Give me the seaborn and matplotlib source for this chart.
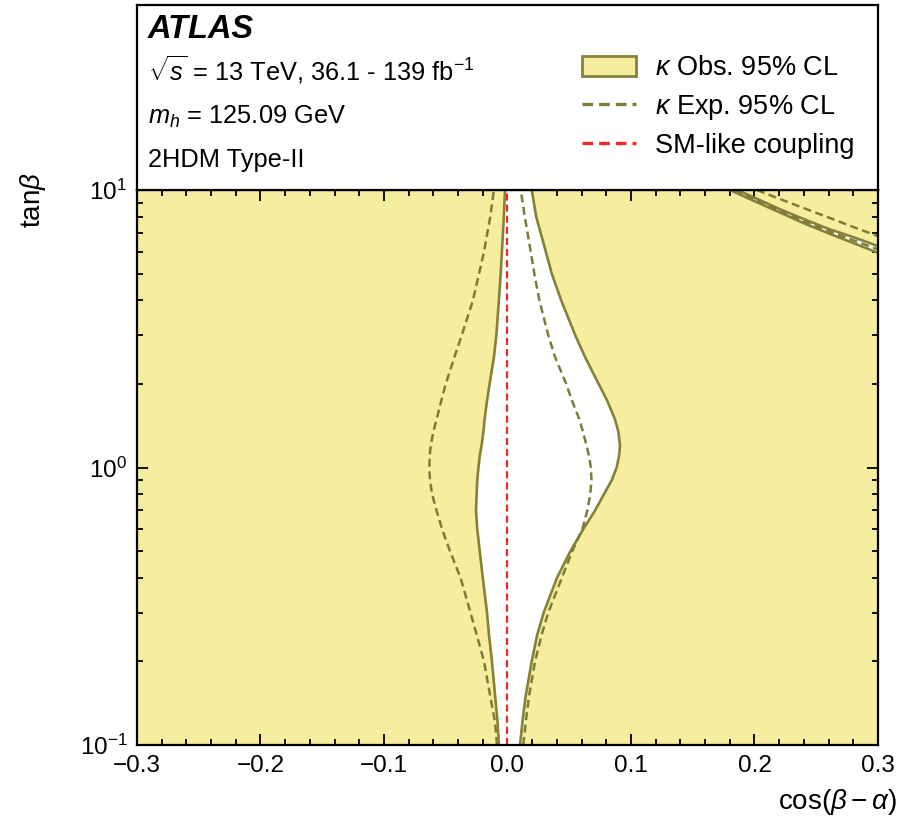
import matplotlib
matplotlib.use("Agg")
import matplotlib.pyplot as plt
import seaborn as sns
from matplotlib.lines import Line2D
from matplotlib.patches import Patch
from matplotlib.ticker import MultipleLocator, LogLocator, NullFormatter

tanb = [0.1, 0.12, 0.15, 0.2, 0.25, 0.3, 0.4, 0.5, 0.6, 0.7, 0.8, 0.9, 1.0,
        1.1, 1.2, 1.35, 1.5, 1.75, 2.0, 2.5, 3.0, 4.0, 5.0, 6.0, 8.0, 10.0]

# observed 95% CL, left/right edge of the allowed region
obs_left = [-0.007, -0.008, -0.010, -0.0126, -0.015, -0.0166, -0.020, -0.0225, -0.0245, -0.0255, -0.025,
            -0.0245, -0.0235, -0.0225, -0.021, -0.0195, -0.0185, -0.0165, -0.0145, -0.011, -0.009,
            -0.007, -0.0055, -0.0045, -0.003, -0.002]
obs_right = [0.0101, 0.012, 0.0147, 0.0196, 0.0241, 0.0293, 0.040, 0.051, 0.0614, 0.0709, 0.078,
             0.0844, 0.0884, 0.0903, 0.0911, 0.0897, 0.0868, 0.0805, 0.0738, 0.0628, 0.0548,
             0.0435, 0.0358, 0.031, 0.0233, 0.0196]

# expected 95% CL
exp_left = [-0.0085, -0.010, -0.014, -0.019, -0.025, -0.030, -0.038, -0.0466, -0.053, -0.0575, -0.061,
            -0.0628, -0.0633, -0.063, -0.0622, -0.060, -0.0573, -0.0535, -0.050, -0.043, -0.037,
            -0.028, -0.023, -0.019, -0.014, -0.011]
exp_right = [0.0128, 0.0147, 0.0174, 0.0223, 0.0277, 0.033, 0.044, 0.0525, 0.0606, 0.0646, 0.067,
             0.068, 0.0675, 0.066, 0.064, 0.061, 0.058, 0.052, 0.0476, 0.0385, 0.033,
             0.0258, 0.0217, 0.0188, 0.014, 0.0107]

# thin band in the upper right corner
band_lo_x = [0.180, 0.20, 0.22, 0.24, 0.26, 0.28, 0.30]
band_lo_y = [10.0, 9.12, 8.32, 7.59, 6.98, 6.44, 5.94]
band_hi_x = [0.186, 0.20, 0.22, 0.24, 0.26, 0.28, 0.30]
band_hi_y = [10.0, 9.38, 8.55, 7.85, 7.24, 6.76, 6.28]
band_exp_lo_x = [0.184, 0.20, 0.22, 0.24, 0.26, 0.28, 0.30]
band_exp_lo_y = [10.0, 9.25, 8.43, 7.72, 7.11, 6.59, 6.11]
band_exp_hi_x = [0.202, 0.22, 0.24, 0.26, 0.28, 0.30]
band_exp_hi_y = [10.0, 9.3, 8.6, 7.96, 7.36, 6.82]

sm_coupling = 0.0

YELLOW = "#F6EE9E"
OLIVE = "#858238"
OLIVE_DASH = "#7E7B3A"
RED = "#EE2B24"

sns.set_style("ticks", {"text.color": "black", "axes.labelcolor": "black", "xtick.color": "black",
                        "ytick.color": "black", "axes.edgecolor": "black"})
plt.rcParams["font.family"] = ["Liberation Sans", "DejaVu Sans"]
plt.rcParams["mathtext.fontset"] = "custom"
plt.rcParams["mathtext.rm"] = "Liberation Sans"
plt.rcParams["mathtext.it"] = "Liberation Sans:italic"
plt.rcParams["mathtext.bf"] = "Liberation Sans:bold"

fig = plt.figure(figsize=(9.2, 8.23), dpi=100)
ax = fig.add_axes([137 / 920, 1 - 745 / 823, 741 / 920, 555 / 823])
top = fig.add_axes([137 / 920, 1 - 190 / 823, 741 / 920, 185 / 823])

# excluded region is yellow, allowed region white
ax.set_facecolor(YELLOW)
ax.fill_betweenx(tanb, obs_left, obs_right, color="white", lw=0, zorder=1)
ax.fill(band_lo_x + band_hi_x[::-1], band_lo_y + band_hi_y[::-1], color="white", lw=0, zorder=1)

solid = dict(sort=False, estimator=None, color=OLIVE, lw=1.9, ax=ax)
dashed = dict(sort=False, estimator=None, color=OLIVE_DASH, lw=1.8, linestyle=(0, (3.2, 1.8)), ax=ax)
sns.lineplot(x=obs_left, y=tanb, **solid)
sns.lineplot(x=obs_right, y=tanb, **solid)
sns.lineplot(x=band_lo_x, y=band_lo_y, **solid)
sns.lineplot(x=band_hi_x, y=band_hi_y, **solid)
sns.lineplot(x=exp_left, y=tanb, **dashed)
sns.lineplot(x=exp_right, y=tanb, **dashed)
sns.lineplot(x=band_exp_lo_x, y=band_exp_lo_y, **dashed)
sns.lineplot(x=band_exp_hi_x, y=band_exp_hi_y, **dashed)
sns.lineplot(x=[sm_coupling, sm_coupling], y=[tanb[0], tanb[-1]], sort=False, estimator=None,
             color=RED, lw=1.6, linestyle=(0, (3.2, 1.8)), ax=ax)

ax.set_xlim(-0.3, 0.3)
ax.set_yscale("log")
ax.set_ylim(0.1, 10)
ax.xaxis.set_major_locator(MultipleLocator(0.1))
ax.xaxis.set_minor_locator(MultipleLocator(0.02))
ax.yaxis.set_major_locator(LogLocator(base=10))
ax.yaxis.set_minor_locator(LogLocator(base=10, subs=range(2, 10)))
ax.yaxis.set_minor_formatter(NullFormatter())
ax.tick_params(which="both", direction="in", top=True, right=True, width=1.3, labelsize=17.5)
ax.tick_params(which="major", length=8, pad=7)
ax.tick_params(which="minor", length=4)
for s in ax.spines.values():
    s.set_linewidth(1.6)
    s.set_zorder(5)

ax.set_xlabel(r"cos($\beta-\alpha$)", fontsize=20)
ax.xaxis.set_label_coords(0.945, -0.075)
ax.set_ylabel(r"tan$\beta$", fontsize=20)
ax.yaxis.set_label_coords(-0.12, 0.982)

# header panel with labels and legend
top.set_xticks([])
top.set_yticks([])
for s in top.spines.values():
    s.set_linewidth(1.6)
hdr = dict(transform=top.transAxes, ha="left", va="center", fontsize=18.3)
top.text(0.015, 0.865, "ATLAS", transform=top.transAxes, ha="left", va="center",
         fontsize=23.5, fontweight="bold", fontstyle="italic")
top.text(0.015, 0.649, r"$\sqrt{s}$ = 13 TeV, 36.1 - 139 fb$^{-1}$", **hdr)
top.text(0.015, 0.395, r"$m_h$ = 125.09 GeV", **hdr)
top.text(0.015, 0.162, "2HDM Type-II", **hdr)

handles = [
    Patch(facecolor=YELLOW, edgecolor=OLIVE, lw=2),
    Line2D([], [], color=OLIVE_DASH, lw=2.4, linestyle=(0, (3.2, 1.8))),
    Line2D([], [], color=RED, lw=2.4, linestyle=(0, (3.2, 1.8))),
]
labels = [r"$\kappa$ Obs. 95% CL", r"$\kappa$ Exp. 95% CL", "SM-like coupling"]
top.legend(handles, labels, loc="center left", bbox_to_anchor=(0.6, 0.448), frameon=False,
           prop={"size": 19.5}, handlelength=2.0, handleheight=0.75,
           handletextpad=0.7, labelspacing=0.42, borderaxespad=0, borderpad=0)

fig.savefig("out.png", dpi=100)
